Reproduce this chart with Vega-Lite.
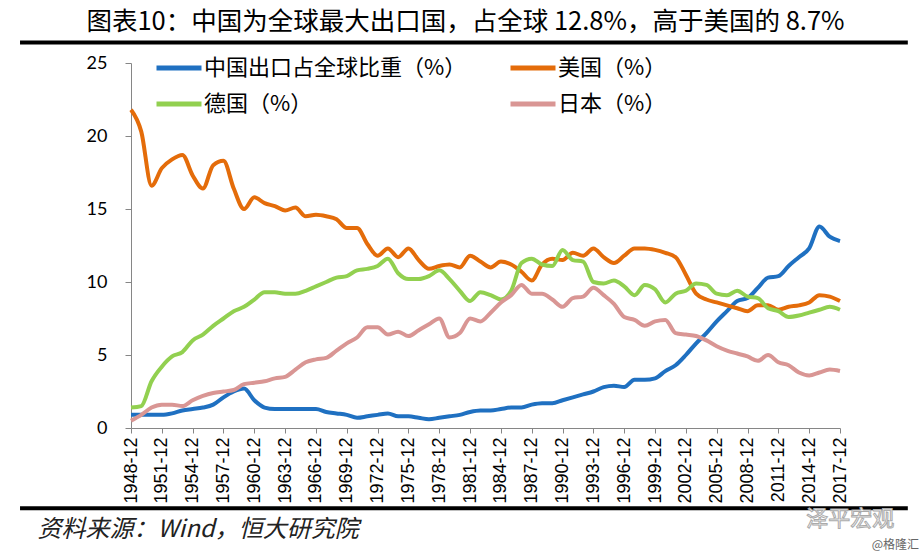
{
  "$schema": "https://vega.github.io/schema/vega-lite/v6.json",
  "width": 709,
  "height": 365,
  "autosize": {"type": "none"},
  "padding": {"left": 131, "top": 63, "right": 81, "bottom": 129},
  "background": "white",
  "title": {
    "text": "图表10：中国为全球最大出口国，占全球 12.8%，高于美国的 8.7%",
    "font": "Noto Sans CJK SC",
    "fontSize": 25.5,
    "fontWeight": "normal",
    "color": "#000000",
    "anchor": "middle",
    "dx": -20,
    "offset": 5
  },
  "config": {
    "view": {"stroke": null},
    "axis": {"grid": false},
    "axisX": {
      "labelOverlap": false,
      "labelFlush": false,
      "labelBound": false,
      "labelSeparation": -40,
      "labelAngle": -90,
      "labelFont": "Liberation Sans",
      "labelFontSize": 18,
      "labelColor": "#000000",
      "labelPadding": 4,
      "domainColor": "#868686",
      "tickColor": "#868686",
      "tickSize": 5
    },
    "axisY": {
      "labelFont": "Lato",
      "labelFontSize": 18,
      "labelColor": "#000000",
      "labelPadding": 18,
      "domainColor": "#868686",
      "tickColor": "#868686",
      "tickSize": 6
    }
  },
  "datasets": {
    "series": [
      {"year": 1948, "cn": 0.9, "us": 21.8, "de": 1.4, "jp": 0.5},
      {"year": 1949, "cn": 0.9, "us": 20.3, "de": 1.5, "jp": 0.9},
      {"year": 1950, "cn": 0.9, "us": 16.6, "de": 3.2, "jp": 1.4},
      {"year": 1951, "cn": 0.9, "us": 17.8, "de": 4.2, "jp": 1.6},
      {"year": 1952, "cn": 1.0, "us": 18.4, "de": 4.9, "jp": 1.6},
      {"year": 1953, "cn": 1.2, "us": 18.7, "de": 5.2, "jp": 1.5},
      {"year": 1954, "cn": 1.3, "us": 17.3, "de": 6.0, "jp": 1.9},
      {"year": 1955, "cn": 1.4, "us": 16.4, "de": 6.4, "jp": 2.2},
      {"year": 1956, "cn": 1.6, "us": 18.0, "de": 7.0, "jp": 2.4},
      {"year": 1957, "cn": 2.1, "us": 18.3, "de": 7.5, "jp": 2.5},
      {"year": 1958, "cn": 2.5, "us": 16.4, "de": 8.0, "jp": 2.6},
      {"year": 1959, "cn": 2.7, "us": 15.0, "de": 8.3, "jp": 3.0},
      {"year": 1960, "cn": 1.9, "us": 15.8, "de": 8.8, "jp": 3.1},
      {"year": 1961, "cn": 1.4, "us": 15.4, "de": 9.3, "jp": 3.2},
      {"year": 1962, "cn": 1.3, "us": 15.2, "de": 9.3, "jp": 3.4},
      {"year": 1963, "cn": 1.3, "us": 14.9, "de": 9.2, "jp": 3.5},
      {"year": 1964, "cn": 1.3, "us": 15.1, "de": 9.2, "jp": 4.0},
      {"year": 1965, "cn": 1.3, "us": 14.5, "de": 9.4, "jp": 4.5},
      {"year": 1966, "cn": 1.3, "us": 14.6, "de": 9.7, "jp": 4.7},
      {"year": 1967, "cn": 1.1, "us": 14.5, "de": 10.0, "jp": 4.8},
      {"year": 1968, "cn": 1.0, "us": 14.3, "de": 10.3, "jp": 5.3},
      {"year": 1969, "cn": 0.9, "us": 13.7, "de": 10.4, "jp": 5.8},
      {"year": 1970, "cn": 0.7, "us": 13.7, "de": 10.8, "jp": 6.2},
      {"year": 1971, "cn": 0.8, "us": 12.6, "de": 10.9, "jp": 6.9},
      {"year": 1972, "cn": 0.9, "us": 11.8, "de": 11.1, "jp": 6.9},
      {"year": 1973, "cn": 1.0, "us": 12.3, "de": 11.6, "jp": 6.4},
      {"year": 1974, "cn": 0.8, "us": 11.7, "de": 10.6, "jp": 6.6},
      {"year": 1975, "cn": 0.8, "us": 12.3, "de": 10.2, "jp": 6.3},
      {"year": 1976, "cn": 0.7, "us": 11.5, "de": 10.2, "jp": 6.7},
      {"year": 1977, "cn": 0.6, "us": 10.9, "de": 10.4, "jp": 7.1},
      {"year": 1978, "cn": 0.7, "us": 11.1, "de": 10.8, "jp": 7.5},
      {"year": 1979, "cn": 0.8, "us": 11.2, "de": 10.2, "jp": 6.2},
      {"year": 1980, "cn": 0.9, "us": 11.0, "de": 9.4, "jp": 6.5},
      {"year": 1981, "cn": 1.1, "us": 11.8, "de": 8.7, "jp": 7.5},
      {"year": 1982, "cn": 1.2, "us": 11.4, "de": 9.3, "jp": 7.3},
      {"year": 1983, "cn": 1.2, "us": 11.0, "de": 9.1, "jp": 7.9},
      {"year": 1984, "cn": 1.3, "us": 11.4, "de": 8.8, "jp": 8.6},
      {"year": 1985, "cn": 1.4, "us": 11.2, "de": 9.4, "jp": 9.1},
      {"year": 1986, "cn": 1.4, "us": 10.7, "de": 11.3, "jp": 9.8},
      {"year": 1987, "cn": 1.6, "us": 10.1, "de": 11.6, "jp": 9.2},
      {"year": 1988, "cn": 1.7, "us": 11.2, "de": 11.2, "jp": 9.2},
      {"year": 1989, "cn": 1.7, "us": 11.6, "de": 11.1, "jp": 8.8},
      {"year": 1990, "cn": 1.9, "us": 11.5, "de": 12.2, "jp": 8.3},
      {"year": 1991, "cn": 2.1, "us": 12.0, "de": 11.5, "jp": 8.9},
      {"year": 1992, "cn": 2.3, "us": 11.8, "de": 11.4, "jp": 9.0},
      {"year": 1993, "cn": 2.5, "us": 12.3, "de": 10.0, "jp": 9.6},
      {"year": 1994, "cn": 2.8, "us": 11.7, "de": 9.9, "jp": 9.1},
      {"year": 1995, "cn": 2.9, "us": 11.3, "de": 10.1, "jp": 8.5},
      {"year": 1996, "cn": 2.8, "us": 11.8, "de": 9.7, "jp": 7.6},
      {"year": 1997, "cn": 3.3, "us": 12.3, "de": 9.1, "jp": 7.4},
      {"year": 1998, "cn": 3.3, "us": 12.3, "de": 9.8, "jp": 7.0},
      {"year": 1999, "cn": 3.4, "us": 12.2, "de": 9.5, "jp": 7.3},
      {"year": 2000, "cn": 3.9, "us": 12.0, "de": 8.6, "jp": 7.4},
      {"year": 2001, "cn": 4.3, "us": 11.7, "de": 9.2, "jp": 6.5},
      {"year": 2002, "cn": 5.0, "us": 10.5, "de": 9.4, "jp": 6.4},
      {"year": 2003, "cn": 5.8, "us": 9.2, "de": 9.9, "jp": 6.3},
      {"year": 2004, "cn": 6.5, "us": 8.8, "de": 9.8, "jp": 6.0},
      {"year": 2005, "cn": 7.3, "us": 8.6, "de": 9.2, "jp": 5.6},
      {"year": 2006, "cn": 8.0, "us": 8.4, "de": 9.1, "jp": 5.3},
      {"year": 2007, "cn": 8.7, "us": 8.2, "de": 9.4, "jp": 5.1},
      {"year": 2008, "cn": 8.9, "us": 8.0, "de": 9.0, "jp": 4.9},
      {"year": 2009, "cn": 9.6, "us": 8.4, "de": 8.9, "jp": 4.6},
      {"year": 2010, "cn": 10.3, "us": 8.4, "de": 8.2, "jp": 5.0},
      {"year": 2011, "cn": 10.4, "us": 8.1, "de": 8.0, "jp": 4.5},
      {"year": 2012, "cn": 11.1, "us": 8.3, "de": 7.6, "jp": 4.3},
      {"year": 2013, "cn": 11.7, "us": 8.4, "de": 7.7, "jp": 3.8},
      {"year": 2014, "cn": 12.3, "us": 8.6, "de": 7.9, "jp": 3.6},
      {"year": 2015, "cn": 13.8, "us": 9.1, "de": 8.1, "jp": 3.8},
      {"year": 2016, "cn": 13.1, "us": 9.0, "de": 8.3, "jp": 4.0},
      {"year": 2017, "cn": 12.8, "us": 8.7, "de": 8.1, "jp": 3.9}
    ]
  },
  "layer": [
    {
      "data": {"name": "series"},
      "transform": [{"fold": ["cn", "us", "de", "jp"], "as": ["country", "share"]}],
      "mark": {"type": "line", "interpolate": "monotone", "strokeWidth": 4},
      "encoding": {
        "x": {
          "field": "year",
          "type": "quantitative",
          "scale": {"domain": [1948, 2017], "nice": false, "zero": false},
          "axis": {
            "title": null,
            "values": [1948, 1951, 1954, 1957, 1960, 1963, 1966, 1969, 1972, 1975, 1978, 1981, 1984, 1987, 1990, 1993, 1996, 1999, 2002, 2005, 2008, 2011, 2014, 2017],
            "labelExpr": "datum.value + '-12'",
            "labelOverlap": false
          }
        },
        "y": {
          "field": "share",
          "type": "quantitative",
          "scale": {"domain": [0, 25], "nice": false},
          "axis": {"title": null, "values": [0, 5, 10, 15, 20, 25]}
        },
        "color": {
          "field": "country",
          "type": "nominal",
          "scale": {
            "domain": ["cn", "de", "us", "jp"],
            "range": ["#1F70C1", "#92D050", "#E46C0A", "#D99694"]
          },
          "legend": {
            "title": null,
            "orient": "none",
            "legendX": 23,
            "legendY": -20,
            "columns": 2,
            "columnPadding": 33,
            "rowPadding": -6,
            "padding": 0,
            "symbolType": "stroke",
            "symbolSize": 2025,
            "symbolStrokeWidth": 5,
            "labelFont": "Noto Sans CJK SC",
            "labelFontSize": 22,
            "labelColor": "#000000",
            "labelOffset": 0,
            "labelLimit": 400,
            "labelExpr": "datum.value == 'cn' ? '中国出口占全球比重（%）' : datum.value == 'us' ? '美国（%）' : datum.value == 'de' ? '德国（%）' : '日本（%）'"
          }
        }
      }
    },
    {
      "data": {"values": [{}]},
      "mark": {"type": "rule", "strokeWidth": 4, "color": "#000000"},
      "encoding": {
        "x": {"datum": 1937.2, "type": "quantitative", "scale": {"domain": [1948, 2017], "nice": false, "zero": false}, "axis": {"title": null, "values": [1948, 1951, 1954, 1957, 1960, 1963, 1966, 1969, 1972, 1975, 1978, 1981, 1984, 1987, 1990, 1993, 1996, 1999, 2002, 2005, 2008, 2011, 2014, 2017], "labelExpr": "datum.value + '-12'", "labelOverlap": false}},
        "x2": {"datum": 2023.6},
        "y": {"datum": 26.4, "type": "quantitative", "scale": {"domain": [0, 25], "nice": false}, "axis": {"title": null, "values": [0, 5, 10, 15, 20, 25]}}
      }
    },
    {
      "data": {"values": [{}]},
      "mark": {"type": "rule", "strokeWidth": 4, "color": "#000000"},
      "encoding": {
        "x": {"datum": 1937.2, "type": "quantitative", "scale": {"domain": [1948, 2017], "nice": false, "zero": false}, "axis": {"title": null, "values": [1948, 1951, 1954, 1957, 1960, 1963, 1966, 1969, 1972, 1975, 1978, 1981, 1984, 1987, 1990, 1993, 1996, 1999, 2002, 2005, 2008, 2011, 2014, 2017], "labelExpr": "datum.value + '-12'", "labelOverlap": false}},
        "x2": {"datum": 2023.6},
        "y": {"datum": -5.5, "type": "quantitative", "scale": {"domain": [0, 25], "nice": false}, "axis": {"title": null, "values": [0, 5, 10, 15, 20, 25]}}
      }
    },
    {
      "data": {"values": [{}]},
      "mark": {"type": "text", "text": "资料来源：Wind，恒大研究院", "font": "Noto Sans CJK SC", "fontSize": 24, "fontStyle": "italic", "color": "#222222", "align": "left", "baseline": "middle"},
      "encoding": {
        "x": {"datum": 1938.9, "type": "quantitative", "scale": {"domain": [1948, 2017], "nice": false, "zero": false}, "axis": {"title": null, "values": [1948, 1951, 1954, 1957, 1960, 1963, 1966, 1969, 1972, 1975, 1978, 1981, 1984, 1987, 1990, 1993, 1996, 1999, 2002, 2005, 2008, 2011, 2014, 2017], "labelExpr": "datum.value + '-12'", "labelOverlap": false}},
        "y": {"datum": -7.0, "type": "quantitative", "scale": {"domain": [0, 25], "nice": false}, "axis": {"title": null, "values": [0, 5, 10, 15, 20, 25]}}
      }
    },
    {
      "data": {"values": [{}]},
      "mark": {"type": "text", "text": "泽平宏观", "font": "Noto Sans CJK SC", "fontSize": 22, "color": "#FFFFFF", "stroke": "#AAAAAA", "strokeWidth": 1, "align": "center", "baseline": "middle"},
      "encoding": {
        "x": {"datum": 2018.0, "type": "quantitative", "scale": {"domain": [1948, 2017], "nice": false, "zero": false}, "axis": {"title": null, "values": [1948, 1951, 1954, 1957, 1960, 1963, 1966, 1969, 1972, 1975, 1978, 1981, 1984, 1987, 1990, 1993, 1996, 1999, 2002, 2005, 2008, 2011, 2014, 2017], "labelExpr": "datum.value + '-12'", "labelOverlap": false}},
        "y": {"datum": -6.2, "type": "quantitative", "scale": {"domain": [0, 25], "nice": false}, "axis": {"title": null, "values": [0, 5, 10, 15, 20, 25]}}
      }
    },
    {
      "data": {"values": [{}]},
      "mark": {"type": "text", "text": "@格隆汇", "font": "Noto Sans CJK SC", "fontSize": 12, "color": "#666666", "align": "right", "baseline": "middle"},
      "encoding": {
        "x": {"datum": 2024.7, "type": "quantitative", "scale": {"domain": [1948, 2017], "nice": false, "zero": false}, "axis": {"title": null, "values": [1948, 1951, 1954, 1957, 1960, 1963, 1966, 1969, 1972, 1975, 1978, 1981, 1984, 1987, 1990, 1993, 1996, 1999, 2002, 2005, 2008, 2011, 2014, 2017], "labelExpr": "datum.value + '-12'", "labelOverlap": false}},
        "y": {"datum": -8.0, "type": "quantitative", "scale": {"domain": [0, 25], "nice": false}, "axis": {"title": null, "values": [0, 5, 10, 15, 20, 25]}}
      }
    }
  ]
}
